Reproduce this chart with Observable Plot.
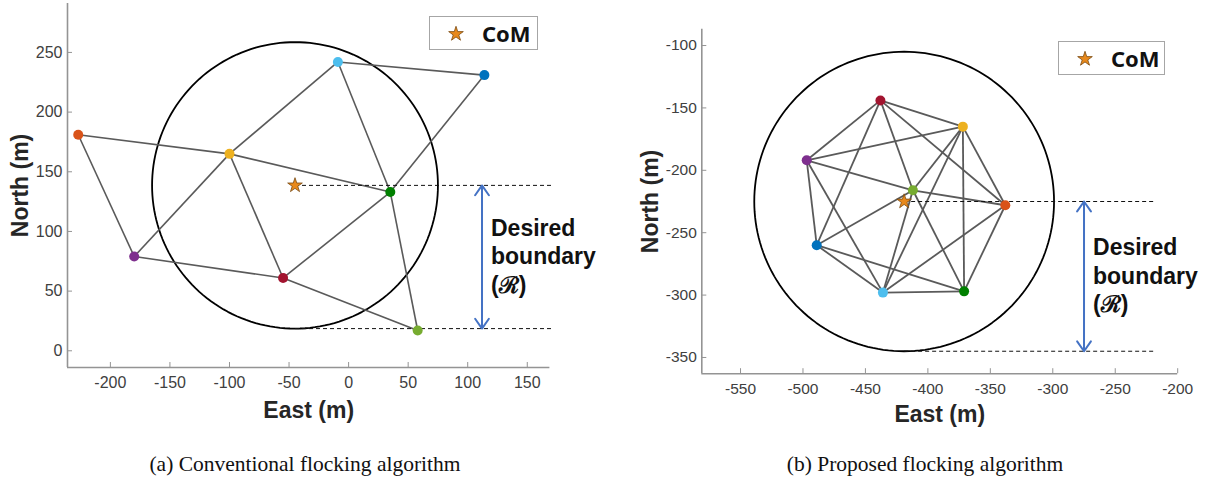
<!DOCTYPE html>
<html>
<head>
<meta charset="utf-8">
<script src="https://cdn.jsdelivr.net/npm/d3@7"></script>
<script src="https://cdn.jsdelivr.net/npm/@observablehq/plot@0.6"></script>
<style>
  html, body { margin: 0; padding: 0; background: #fff; }
  #page { position: relative; width: 1214px; height: 478px; overflow: hidden; background: #fff; }
  .panel { position: absolute; top: 0; }
  .legend { position: absolute; box-sizing: border-box; border: 1.5px solid #a6a6a6; background: #fff; }
  .legend svg { position: absolute; top: 0; left: 0; }
  .legend span { position: absolute; font-family: "Noto Sans", sans-serif; font-weight: bold; font-size: 22px; color: #111; line-height: 1; }
  .caption { position: absolute; top: 452px; font-family: "Liberation Serif", "Times New Roman", serif; font-size: 21.5px; color: #111; white-space: nowrap; transform: translateX(-50%); }
</style>
</head>
<body>
<div id="page"></div>
<script>
// ---- data ----
const agentIds = ["blue", "orange", "yellow", "purple", "lightgreen", "lightblue", "red", "green"];
const agentColors = ["#0072BD", "#D95319", "#EDB120", "#7E2F8E", "#77AC30", "#4DBEEE", "#A2142F", "#008000"];

// (a) conventional flocking
const convEast  = [114, -227, -100, -180, 58, -9, -55, 35];
const convNorth = [231, 181, 165, 79, 17, 242, 61, 133];
const convEdges = [
  ["orange", "yellow"], ["orange", "purple"], ["yellow", "green"], ["purple", "yellow"],
  ["yellow", "lightblue"], ["yellow", "red"], ["purple", "red"], ["red", "green"],
  ["red", "lightgreen"], ["lightblue", "green"], ["lightblue", "blue"], ["blue", "green"],
  ["green", "lightgreen"]
];
const convCoM = [-45, 138.6];
const convXTicks = [-200, -150, -100, -50, 0, 50, 100, 150];
const convYTicks = [0, 50, 100, 150, 200, 250];

// (b) proposed flocking
const propEast  = [-489, -338, -372, -497, -412, -436, -438, -371];
const propNorth = [-260, -228, -165, -192, -216, -298, -144, -297];
const propEdges = [
  ["red", "purple"], ["red", "yellow"], ["red", "orange"], ["red", "blue"], ["red", "lightgreen"],
  ["purple", "yellow"], ["purple", "lightgreen"], ["purple", "blue"], ["purple", "lightblue"],
  ["yellow", "lightgreen"], ["yellow", "lightblue"], ["yellow", "green"], ["yellow", "orange"],
  ["orange", "lightgreen"], ["orange", "lightblue"], ["orange", "green"],
  ["blue", "lightblue"], ["blue", "green"], ["blue", "lightgreen"],
  ["lightblue", "green"], ["lightblue", "lightgreen"], ["lightgreen", "green"]
];
const propCoM = [-419, -225];
const propXTicks = [-550, -500, -450, -400, -350, -300, -250, -200];
const propYTicks = [-350, -300, -250, -200, -150, -100];

const desiredRadius = 120;
const legendLabel = "CoM";
const boundaryLines = ["Desired", "boundary", "(ℛ)"];
const xLabel = "East (m)";
const yLabel = "North (m)";
const captions = ["(a) Conventional flocking algorithm", "(b) Proposed flocking algorithm"];

// ---- drawing ----
const starR = 4.6;

function panel(cfg) {
  const nodes = cfg.east.map((e, i) => ({id: agentIds[i], east: e, north: cfg.north[i], color: agentColors[i]}));
  const byId = new Map(nodes.map(n => [n.id, n]));
  const links = cfg.edges.map(([a, b]) => ({a: byId.get(a), b: byId.get(b)}));
  const [cx, cy] = cfg.com;
  const R = desiredRadius;
  const circle = d3.range(0, 361, 2).map(deg => ({
    east: cx + R * Math.cos(deg * Math.PI / 180),
    north: cy + R * Math.sin(deg * Math.PI / 180)
  }));
  const dashed = [{x1: cx, x2: cfg.dashEnd, y: cy}, {x1: cx, x2: cfg.dashEnd, y: cy - R}];
  const mid = cy - R / 2;
  const arrows = [{x: cfg.arrowX, y1: mid, y2: cy}, {x: cfg.arrowX, y1: mid, y2: cy - R}];
  const labelRows = boundaryLines.map((t, i) => ({t, x: cfg.arrowX, y: mid, dy: (i - 1) * 28.5}));
  const fmt = d => String(d);
  return Plot.plot({
    width: cfg.width, height: cfg.height,
    marginLeft: cfg.mL, marginRight: cfg.mR, marginTop: cfg.mT, marginBottom: cfg.mB,
    x: {domain: cfg.xDomain, label: null},
    y: {domain: cfg.yDomain, label: null},
    style: {fontFamily: "'Liberation Sans', Arial, sans-serif", fontSize: cfg.tickFont + "px", overflow: "visible", background: "transparent"},
    marks: [
      Plot.ruleX([cfg.xDomain[0]], {stroke: "#949494", strokeWidth: 1.6}),
      Plot.ruleY([cfg.yDomain[0]], {stroke: "#949494", strokeWidth: 1.6}),
      Plot.axisX(cfg.xTicks, {tickSize: -5, tickPadding: 14, tickFormat: fmt, label: null, stroke: "#949494", fill: "#404040", fontSize: cfg.tickFont}),
      Plot.axisY(cfg.yTicks, {tickSize: -5, tickPadding: 10, tickFormat: fmt, label: null, stroke: "#949494", fill: "#404040", fontSize: cfg.tickFont}),
      Plot.line(circle, {x: "east", y: "north", stroke: "#000", strokeWidth: 1.8}),
      Plot.link(links, {x1: d => d.a.east, y1: d => d.a.north, x2: d => d.b.east, y2: d => d.b.north, stroke: "#5a5a5a", strokeWidth: cfg.edgeWidth}),
      Plot.link(dashed, {x1: "x1", x2: "x2", y1: "y", y2: "y", stroke: "#111", strokeWidth: 1, strokeDasharray: "4,3"}),
      Plot.dot(nodes, {x: "east", y: "north", r: 5, fill: d => d.color, stroke: "none"}),
      Plot.dot([cfg.com], {x: d => d[0], y: d => d[1], symbol: "star", r: starR, fill: "#E8891C", stroke: "#7a4a12", strokeWidth: 0.8}),
      Plot.arrow(arrows, {x1: "x", x2: "x", y1: "y1", y2: "y2", stroke: "#4472C4", strokeWidth: 2, headLength: 9, headAngle: 70}),
      ...labelRows.map(r => Plot.text([r], {x: "x", y: "y", text: "t", dx: 9, dy: r.dy, textAnchor: "start", lineAnchor: "middle", fontSize: 23, fontWeight: "bold", fontFamily: "'Liberation Sans', Arial, sans-serif", fill: "#111"})),
      Plot.text([xLabel], {frameAnchor: "bottom", dy: cfg.xLabelDy, textAnchor: "middle", lineAnchor: "middle", text: d => d, fontSize: 23, fontWeight: "bold", fill: "#262626"}),
      Plot.text([yLabel], {frameAnchor: "left", dx: cfg.yLabelDx, rotate: -90, textAnchor: "middle", lineAnchor: "middle", text: d => d, fontSize: 23, fontWeight: "bold", fill: "#262626"})
    ]
  });
}

const page = document.getElementById("page");

const left = panel({
  east: convEast, north: convNorth, edges: convEdges, com: convCoM,
  xTicks: convXTicks, yTicks: convYTicks,
  xDomain: [-236, 169], yDomain: [-14, 291],
  width: 607, height: 440, mL: 67, mR: 57.6, mT: 3, mB: 73,
  dashEnd: 170, arrowX: 112, tickFont: 16, edgeWidth: 1.6,
  xLabelDy: 43, yLabelDx: -47
});
const right = panel({
  east: propEast, north: propNorth, edges: propEdges, com: propCoM,
  xTicks: propXTicks, yTicks: propYTicks,
  xDomain: [-581, -200], yDomain: [-363, -87],
  width: 607, height: 440, mL: 94.3, mR: 36.8, mT: 28.8, mB: 66.8,
  dashEnd: -218, arrowX: -275, tickFont: 15.5, edgeWidth: 1.8,
  xLabelDy: 41, yLabelDx: -51
});

const wrapL = document.createElement("div"); wrapL.className = "panel"; wrapL.style.left = "0px"; wrapL.appendChild(left); page.appendChild(wrapL);
const wrapR = document.createElement("div"); wrapR.className = "panel"; wrapR.style.left = "607px"; wrapR.appendChild(right); page.appendChild(wrapR);

function legend(x, y, w, h) {
  const div = document.createElement("div");
  div.className = "legend";
  Object.assign(div.style, {left: x + "px", top: y + "px", width: w + "px", height: h + "px"});
  const star = d3.symbol(d3.symbolStar, Math.PI * starR * starR)();
  div.innerHTML = `<svg width="${w}" height="${h}"><path d="${star}" transform="translate(26,${h / 2})" fill="#E8891C" stroke="#7a4a12" stroke-width="0.8"/></svg><span style="left:52px;top:${h / 2 - 12}px">${legendLabel}</span>`;
  page.appendChild(div);
}
legend(429, 16, 109, 34);
legend(1058, 41, 107, 34);

[[305, captions[0]], [925, captions[1]]].forEach(([cx, t]) => {
  const c = document.createElement("div");
  c.className = "caption";
  c.style.left = cx + "px";
  c.textContent = t;
  page.appendChild(c);
});
</script>
</body>
</html>
